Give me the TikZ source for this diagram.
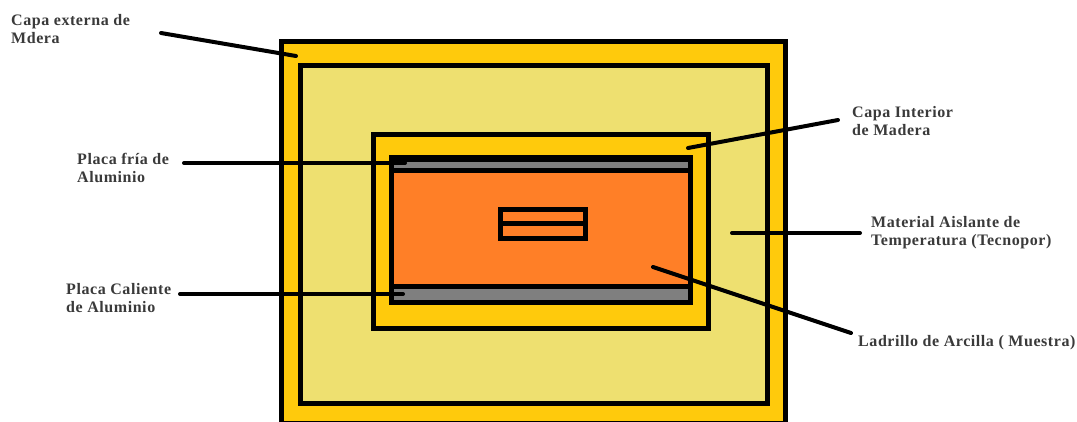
\documentclass[tikz,border=0pt]{standalone}
\usepackage{fontspec}
\setmainfont{Liberation Serif}[LetterSpace=3.5]
\usepackage{xcolor}
\definecolor{maderacol}{HTML}{FFCA0C}
\definecolor{aislantecol}{HTML}{EEE070}
\definecolor{ladrillocol}{HTML}{FF7F27}
\definecolor{placacol}{HTML}{7F7F7F}
\definecolor{textocol}{HTML}{3A3A3A}
\tikzset{
  capa/.style={draw=black,line width=5pt,line join=miter},
  guia/.style={draw=black,line width=4pt,line cap=round},
  rotulo/.style={anchor=north west,align=left,inner sep=0pt,text=textocol,
    font=\fontsize{16}{18}\selectfont\bfseries},
}
\begin{document}
\begin{tikzpicture}[x=1pt,y=-1pt]
  \useasboundingbox (0,0) rectangle (1077,421);
  \fill[white] (0,0) rectangle (1077,421);
  \begin{scope}
    \clip (0,0) rectangle (1077,421);
    \path[capa,fill=maderacol] (281,41.5) rectangle (785.5,423);
  \end{scope}
  \path[capa,fill=aislantecol] (300.5,65.5) rectangle (767.5,403.5);
  \path[capa,fill=maderacol] (373.5,134.5) rectangle (708.5,328.5);
  \path[fill=placacol] (391.5,157.5) rectangle (690.5,302.5);
  \path[capa,fill=ladrillocol] (391.5,170.5) rectangle (690.5,286.5);
  \path[capa] (391.5,158) rectangle (690.5,302.5);
  \draw[capa,line width=7pt] (389,158.5) -- (693,158.5);
  \path[capa] (500.5,209.5) rectangle (585.5,238.5);
  \draw[capa] (500.5,223.5) -- (585.5,223.5);

  \node[rotulo] (externa) at (11,14.5) {Capa externa de\\Mdera};
  \node[rotulo] (fria) at (77,153.5) {Placa fría de\\Aluminio};
  \node[rotulo] (caliente) at (66,283.5) {Placa Caliente\\de Aluminio};
  \node[rotulo] (interior) at (852,106.5) {Capa Interior\\de Madera};
  \node[rotulo] (aislante) at (871,216.5) {Material Aislante de\\Temperatura (Tecnopor)};
  \node[rotulo] (ladrillo) at (858,335.5) {Ladrillo de Arcilla ( Muestra)};

  \coordinate (externaA) at (161,33);  \coordinate (externaB) at (296,56);
  \coordinate (friaA) at (184,163);    \coordinate (friaB) at (405,163);
  \coordinate (calienteA) at (180,294); \coordinate (calienteB) at (403,294);
  \coordinate (interiorA) at (838,120); \coordinate (interiorB) at (688,148);
  \coordinate (aislanteA) at (860,233); \coordinate (aislanteB) at (732,233);
  \coordinate (ladrilloA) at (851,333); \coordinate (ladrilloB) at (653,267);
  \foreach \g in {externa,fria,caliente,interior,aislante,ladrillo}{
    \draw[guia] (\g A) -- (\g B);
  }
\end{tikzpicture}
\end{document}
